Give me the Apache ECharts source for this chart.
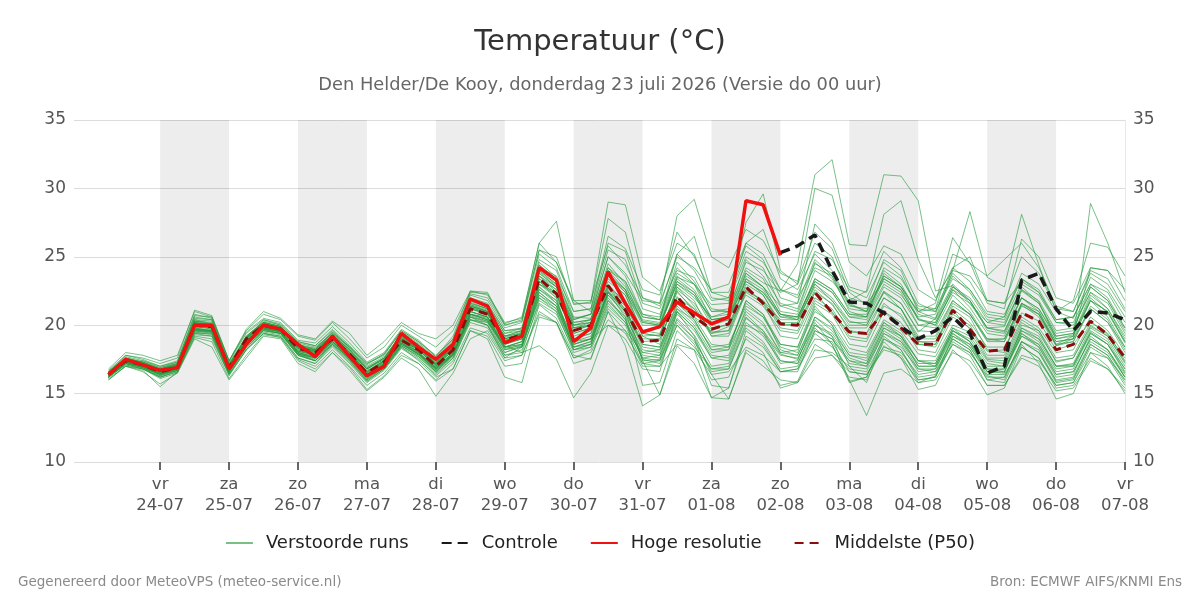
<!DOCTYPE html>
<html>
<head>
<meta charset="utf-8">
<script src="https://cdn.jsdelivr.net/npm/echarts@6/dist/echarts.min.js"></script>
<style>
html, body { margin: 0; padding: 0; background: #fff; }
#grafiek { width: 1200px; height: 600px; }
</style>
</head>
<body>
<div id="grafiek"></div>
<script>
'use strict';
// tijdstappen: elke 6 uur vanaf 23-07 06:00 (uren sinds 23-07 00:00)
var startUur = 6;
var stapUur = 6;

// daglabels (00:00 van elke dag)
var dagUren = [24, 48, 72, 96, 120, 144, 168, 192, 216, 240, 264, 288, 312, 336, 360];
var dagNamen = ['vr', 'za', 'zo', 'ma', 'di', 'wo', 'do', 'vr', 'za', 'zo', 'ma', 'di', 'wo', 'do', 'vr'];
var dagDatums = ['24-07', '25-07', '26-07', '27-07', '28-07', '29-07', '30-07', '31-07', '01-08', '02-08', '03-08', '04-08', '05-08', '06-08', '07-08'];
// grijze banden (om de dag)
var grijzeDagen = [24, 72, 120, 168, 216, 264, 312];

// hoge resolutie (tot 02-08 00:00)
var hoogRes = [16.4, 17.5, 17.1, 16.7, 16.9, 20.0, 20.0, 16.8, 18.6, 20.0, 19.7, 18.6, 17.7, 19.2, 17.7, 16.3, 17.0, 19.4, 18.4, 17.5,
    18.6, 21.9, 21.4, 18.7, 19.2, 24.2, 23.3, 18.8, 19.8, 23.9, 21.6, 19.5, 19.9, 21.7, 20.9, 20.1, 20.6, 29.1, 28.8, 25.1];

// controle run (zichtbaar vanaf stap 39)
var controleStart = 39;
var controle = [25.3, 25.8, 26.6, 24.0, 21.7, 21.6, 20.9, 19.9, 19.0, 19.6, 20.6, 19.4, 16.5, 17.0, 23.3, 23.8, 21.2, 19.6, 21.0, 20.9, 20.4];

// mediaan P50
var p50 = [16.4, 17.4, 17.1, 16.6, 16.9, 20.0, 19.9, 16.9, 19.0, 20.0, 19.7, 18.3, 18.0, 19.0, 17.9, 16.5, 17.3, 18.9, 18.2, 17.0,
    18.2, 21.2, 20.8, 18.9, 19.3, 23.4, 22.3, 19.6, 20.0, 22.9, 21.1, 18.8, 18.9, 22.1, 20.6, 19.7, 20.1, 22.8, 21.6, 20.1,
    20.0, 22.4, 20.9, 19.5, 19.4, 21.0, 19.8, 18.6, 18.6, 21.1, 19.7, 18.1, 18.2, 20.9, 20.3, 18.2, 18.6, 20.3, 19.3, 17.6];

// verstoorde runs
var runs = [
    [16.5,17.6,17.3,16.8,17.1,20.3,20.1,17.0,19.2,20.2,19.9,18.5,18.2,19.3,18.1,16.8,17.5,19.1,18.4,17.3,
     18.4,21.5,21.1,19.1,19.5,23.8,22.8,20.0,20.4,24.0,22.6,20.3,20.1,23.0,22.0,20.6,21.0,24.0,23.1,22.5,
     24.5,31.0,32.1,25.9,25.8,31.0,30.9,29.1,22.5,22.9,21.6,19.8,19.9,22.8,21.7,19.0,19.3,22.0,20.9,18.7],
    [16.2,17.2,17.4,17.0,17.3,20.8,20.5,17.2,19.0,20.4,20.1,18.8,18.5,19.6,18.4,17.2,17.8,19.6,18.8,17.8,
     19.0,22.3,22.0,20.0,20.3,25.5,25.0,21.5,21.7,29.0,28.8,23.5,22.5,26.0,25.2,22.0,21.8,25.0,24.2,21.4,
     21.0,24.5,23.8,21.5,21.0,23.6,22.8,20.5,20.0,22.6,21.3,19.4,19.2,22.0,21.0,18.8,19.0,21.8,20.6,18.4],
    [16.0,17.0,16.7,15.5,16.6,19.1,18.8,16.1,17.8,19.3,19.1,17.4,16.8,18.0,16.9,15.3,16.3,17.8,17.2,15.9,
     16.8,19.6,19.2,17.0,17.2,21.5,20.5,17.8,17.5,21.0,18.5,14.1,14.9,18.5,17.2,14.7,14.6,18.2,17.4,15.6,
     15.9,18.6,17.8,16.2,16.0,18.5,17.6,16.0,16.2,19.2,18.4,16.6,16.5,19.8,19.0,17.0,17.1,19.5,18.6,16.5],
    [16.4,17.3,16.9,16.2,16.7,19.5,19.3,16.6,18.3,19.6,19.4,17.9,17.4,18.7,17.5,16.0,16.9,18.6,17.9,16.6,
     17.8,20.6,20.2,18.0,18.5,22.0,21.2,18.6,19.0,22.5,21.0,17.4,17.5,20.5,19.3,17.0,17.2,20.5,19.6,17.9,
     17.5,20.2,18.6,16.0,13.4,16.5,16.8,15.8,16.3,18.6,18.0,16.3,16.0,18.8,18.2,15.9,16.1,18.6,17.8,16.0],
    [16.6,17.8,17.6,17.2,17.6,21.1,20.7,17.4,19.6,20.8,20.4,19.2,18.9,20.2,19.0,17.6,18.4,20.0,19.2,18.4,
     19.6,22.4,22.3,20.2,20.5,26.0,27.6,21.8,21.0,25.5,24.8,21.2,20.8,24.2,23.0,20.4,20.6,23.6,22.8,20.8,
     20.4,23.0,22.0,20.3,20.0,22.4,21.6,19.6,19.5,21.8,20.8,18.9,19.0,21.5,20.6,18.5,18.8,21.4,20.4,18.2],
    [16.3,17.4,17.2,16.7,17.0,20.0,19.7,16.7,18.8,20.1,19.8,18.2,17.8,19.1,17.7,16.3,17.2,19.0,18.0,16.8,
     18.0,20.4,20.2,18.5,18.0,18.5,17.5,14.7,16.5,20.0,19.0,16.8,16.6,21.0,19.8,17.6,17.8,21.2,20.2,18.0,
     18.2,21.0,20.2,18.3,18.0,20.4,19.6,17.9,17.7,20.0,19.5,17.5,17.4,20.0,19.6,17.3,17.6,19.9,19.2,17.3],
    [16.5,17.5,17.0,16.4,17.0,20.2,20.0,17.0,19.1,20.0,19.6,18.4,18.1,19.2,18.0,16.6,17.4,19.2,18.4,17.2,
     18.4,21.3,20.9,18.8,19.4,24.6,23.5,20.5,20.8,25.0,23.8,21.8,21.6,28.0,29.2,25.0,24.2,27.0,26.2,23.8,
     23.2,26.8,25.6,22.4,21.5,24.8,24.0,21.0,20.5,23.0,21.8,19.8,19.5,22.5,21.6,19.2,19.4,22.2,21.2,19.0],
    [16.4,17.5,17.3,16.9,17.2,20.4,20.1,17.1,19.0,20.2,19.9,18.6,18.2,19.5,18.3,16.9,17.6,19.4,18.6,17.5,
     18.8,22.0,21.6,19.6,19.8,24.8,24.0,20.6,20.5,24.5,23.0,20.2,20.0,23.5,23.0,21.5,21.6,27.5,29.6,24.0,
     23.0,26.0,25.0,22.0,21.6,23.2,22.4,20.0,19.8,22.2,21.0,19.0,18.8,21.6,20.8,18.6,18.8,21.2,20.2,18.0],
    [16.2,17.2,17.0,16.6,16.9,19.8,19.9,16.9,18.9,19.9,19.5,18.1,17.9,18.8,17.9,16.5,17.3,18.8,18.3,17.1,
     18.1,21.2,20.8,18.9,19.2,23.0,22.0,19.4,19.8,22.6,21.4,19.0,19.0,22.0,21.2,19.5,19.6,22.5,21.8,20.4,
     20.4,22.8,21.8,20.2,20.2,22.5,21.6,19.5,20.5,24.0,28.3,23.5,22.8,28.1,24.4,21.0,20.5,23.5,22.6,20.6],
    [16.6,17.6,17.1,16.5,16.8,19.8,19.6,16.5,18.6,19.8,19.5,18.0,17.7,18.8,17.6,16.2,17.0,18.7,17.8,16.6,
     17.9,20.8,20.5,18.6,19.0,23.4,22.6,19.6,20.0,23.2,22.2,19.2,19.3,22.5,21.0,19.4,19.9,23.0,22.2,20.0,
     20.0,22.6,21.5,19.8,19.8,22.0,21.2,18.8,18.6,21.4,20.6,18.2,18.0,21.6,21.0,18.5,19.0,28.9,26.0,22.4],
    [16.4,17.4,17.1,16.6,17.1,20.5,20.4,17.2,19.2,20.3,20.0,18.7,18.4,19.4,18.4,17.0,17.7,19.3,18.6,17.4,
     18.7,21.9,21.5,19.6,19.7,24.2,23.6,21.0,21.2,26.0,25.4,21.6,21.2,24.0,23.5,21.2,21.0,24.2,23.4,21.0,
     20.8,24.0,23.2,21.8,22.5,28.1,29.1,24.8,22.0,24.0,23.6,21.8,21.6,23.2,22.4,20.2,20.0,22.4,21.2,19.2],
    [16.3,17.3,16.9,16.3,16.8,19.6,19.5,16.6,18.5,19.7,19.6,18.1,17.8,19.0,17.8,16.4,17.1,18.9,18.0,16.9,
     18.2,21.0,20.6,18.7,19.0,23.0,22.2,19.2,19.6,22.4,21.6,19.6,19.8,23.2,22.2,20.0,20.4,23.2,22.4,20.8,
     20.6,23.4,22.6,20.8,20.8,23.6,22.8,21.0,21.6,26.4,24.5,23.6,24.8,26.0,24.2,21.4,21.0,23.8,23.0,21.0],
    [16.2,17.1,16.8,16.3,16.7,19.4,19.4,16.4,18.4,19.5,19.3,17.8,17.4,18.5,17.3,15.9,16.8,18.4,17.6,16.3,
     17.4,20.4,20.0,17.8,18.2,21.6,20.8,18.2,18.6,21.8,20.4,17.8,17.6,20.8,19.6,17.6,17.4,20.6,19.4,17.8,
     17.6,20.0,19.2,17.4,17.0,19.6,18.8,16.8,16.6,19.0,18.2,16.0,15.8,18.6,17.2,14.6,15.0,18.0,17.0,15.0],
    [16.4,17.4,17.1,16.6,16.9,20.0,19.9,16.9,19.0,20.0,19.7,18.3,18.0,19.0,17.9,16.5,17.3,18.9,18.2,17.0,
     18.3,21.2,20.8,18.9,19.3,23.4,22.3,19.6,20.0,22.9,21.1,18.8,18.9,22.1,20.6,19.7,20.1,22.8,21.6,20.1,
     20.0,22.4,20.9,19.5,19.4,21.0,19.8,18.6,18.6,21.1,19.7,18.1,18.2,20.9,20.3,18.2,18.6,20.3,19.3,17.6],
    [16.5,17.5,17.2,16.7,17.0,19.7,19.6,16.8,18.7,19.8,19.8,18.4,18.2,19.2,18.0,16.6,17.4,18.7,18.1,16.9,
     18.0,20.8,20.4,18.2,18.6,22.4,21.4,18.8,19.0,22.0,20.4,17.5,17.2,20.0,18.6,16.0,16.2,19.0,18.0,15.4,
     15.8,17.6,17.8,16.6,16.4,18.4,18.0,16.4,16.6,18.6,17.8,15.6,15.6,17.8,17.4,15.6,15.8,18.0,17.6,16.0],
    [16.7,17.8,17.5,17.0,17.4,20.7,20.6,17.4,19.5,20.5,20.2,18.9,18.7,19.9,18.7,17.3,18.0,19.7,18.9,17.7,
     19.2,22.5,22.2,20.1,20.6,26.0,24.6,21.6,21.6,27.8,26.8,22.0,21.4,25.2,24.0,21.8,22.0,25.4,24.6,22.6,
     22.0,24.2,23.6,21.4,21.2,24.0,23.0,20.8,20.4,22.8,22.0,20.2,20.0,22.6,21.6,19.4,19.6,22.8,21.8,19.6],
    [16.1,17.0,16.6,15.7,16.5,19.0,18.4,16.0,17.6,19.2,19.0,17.2,16.6,18.0,16.7,15.2,16.2,17.6,16.8,14.8,
     16.5,19.0,19.6,17.6,17.8,21.0,20.2,17.6,18.2,21.2,20.0,17.2,17.4,20.2,19.0,16.6,16.8,19.8,18.8,16.8,
     17.0,19.6,19.0,17.2,17.0,19.4,18.6,16.6,16.8,19.2,18.6,16.8,16.6,19.2,18.4,16.4,16.6,19.0,18.2,16.4],
    [16.3,17.4,17.2,16.8,17.2,20.4,20.3,17.1,19.1,20.1,19.8,18.5,18.0,19.3,18.2,16.8,17.5,19.2,18.4,17.3,
     18.6,21.8,21.4,19.4,19.8,24.4,23.2,20.4,20.8,24.2,23.2,20.8,20.6,23.8,23.0,21.0,21.2,24.6,24.0,22.4,
     23.0,30.0,29.5,24.6,23.6,25.8,25.2,22.6,21.8,24.2,23.2,21.0,20.8,23.4,22.6,20.4,20.6,23.0,22.4,20.2],
    [16.2,17.2,16.8,16.2,16.6,19.3,19.2,16.3,18.2,19.4,19.2,17.6,17.2,18.4,17.2,15.8,16.7,18.3,17.5,16.4,
     17.6,20.2,19.8,17.8,18.0,21.8,21.0,18.0,18.4,21.4,20.2,17.6,17.8,21.0,19.8,17.8,17.6,20.8,19.6,17.4,
     17.2,19.8,18.6,15.8,16.2,18.8,17.6,15.3,15.6,18.2,17.0,14.9,15.4,18.4,17.6,15.6,15.8,18.4,17.6,15.6],
    [16.6,17.7,17.4,16.9,17.3,20.3,20.0,17.0,19.0,20.1,19.8,18.6,18.3,19.5,18.4,17.1,17.9,19.5,18.7,17.6,
     18.9,22.0,21.4,19.4,19.6,24.0,23.0,20.2,20.4,24.2,22.8,20.6,20.4,23.6,22.6,20.6,20.8,23.8,22.8,20.8,
     20.6,23.2,22.4,20.6,20.4,22.8,22.0,20.0,20.2,22.4,21.6,20.2,20.6,23.8,23.0,21.0,21.8,26.0,25.7,23.6],
    [16.3,17.3,17.0,16.4,16.8,19.7,19.7,16.7,18.6,19.8,19.6,18.0,17.6,18.6,17.6,16.2,17.0,18.6,17.9,16.7,
     17.9,20.8,20.6,18.4,18.8,22.6,21.6,19.0,19.4,22.2,21.0,18.4,18.2,21.4,20.2,18.4,18.6,21.4,20.6,18.6,
     18.4,21.2,20.0,18.0,17.8,20.2,19.2,17.4,17.2,19.8,18.8,17.0,17.0,19.6,18.8,16.8,17.0,19.4,18.6,16.8],
    [16.5,17.5,17.2,16.8,17.1,20.2,20.0,17.0,19.2,20.2,19.8,18.4,18.2,19.3,18.1,16.8,17.6,19.1,18.4,17.2,
     18.6,21.6,21.2,19.2,19.6,24.4,23.4,20.4,20.8,25.0,23.6,20.8,20.4,24.6,23.2,21.0,21.0,24.8,23.6,21.6,
     21.2,24.6,23.4,21.2,21.0,24.2,23.4,21.4,21.2,23.8,22.6,20.6,20.4,23.0,22.2,20.2,20.2,22.8,21.8,19.8],
    [16.4,17.4,16.9,16.4,16.8,19.6,19.4,16.5,18.4,19.6,19.4,17.8,17.4,18.6,17.4,15.9,16.8,18.5,17.7,16.5,
     17.6,20.6,20.0,17.6,18.4,22.6,21.8,18.4,18.6,22.8,21.6,17.4,14.9,19.0,18.2,14.7,15.4,19.6,18.6,16.6,
     16.8,19.4,18.4,16.8,16.6,19.0,18.2,16.2,16.4,19.0,18.2,16.0,16.2,18.8,18.0,16.0,16.2,18.8,18.0,16.2],
    [16.4,17.6,17.3,16.8,17.2,20.6,20.4,17.3,19.4,20.4,20.0,18.8,18.5,19.7,18.5,17.2,17.9,19.6,18.8,17.7,
     19.0,22.2,21.8,19.8,20.2,25.2,24.2,21.0,21.2,26.5,25.6,22.6,22.2,26.8,25.0,22.4,22.4,25.8,24.8,22.0,
     21.6,24.8,23.6,21.0,20.6,23.4,22.6,20.4,20.0,22.6,21.8,19.6,19.4,22.0,21.2,19.0,19.2,21.8,21.0,18.8],
    [16.5,17.4,17.0,16.5,16.9,20.1,20.1,17.0,18.9,19.9,19.6,18.2,17.8,19.0,17.8,16.4,17.2,18.9,18.2,17.0,
     18.2,21.4,21.0,18.8,19.2,23.6,22.6,19.8,20.2,23.4,22.2,19.6,19.4,22.6,21.6,19.8,20.0,22.2,21.4,19.6,
     19.4,22.0,21.2,19.2,19.0,21.6,20.6,18.8,18.8,21.2,20.2,18.4,18.4,20.6,19.8,18.0,18.2,20.6,19.6,17.8],
    [16.2,17.3,17.1,16.7,17.0,20.2,19.8,16.8,18.8,19.9,19.7,18.3,18.0,19.1,17.9,16.6,17.4,19.0,18.2,17.0,
     18.4,21.4,21.0,19.0,19.4,23.8,22.8,19.8,20.0,23.6,22.4,20.0,20.0,23.2,22.4,20.2,20.4,23.4,22.6,20.6,
     20.4,23.4,22.6,20.8,20.6,23.8,22.8,21.0,21.2,25.2,24.6,21.6,21.2,26.3,25.0,22.0,21.6,24.2,24.0,22.6],
    [16.3,17.2,16.9,16.4,16.7,19.6,19.6,16.6,18.7,19.8,19.5,17.9,17.6,18.8,17.6,16.1,16.9,18.5,17.8,16.8,
     17.9,21.0,20.6,18.4,18.6,22.8,21.8,18.8,19.2,22.4,21.2,18.6,18.4,21.6,20.6,18.6,18.4,21.6,20.6,18.4,
     18.0,21.4,20.0,17.0,15.8,19.0,18.4,16.8,16.8,19.4,18.6,16.6,16.6,19.4,18.4,16.2,16.4,19.2,18.2,16.2],
    [16.4,17.4,17.0,16.5,16.8,19.8,19.5,16.6,18.5,19.7,19.4,17.9,17.5,18.8,17.6,16.2,17.0,18.6,17.9,16.7,
     17.8,20.6,20.3,18.2,18.4,22.0,21.0,18.4,18.8,22.2,20.8,18.0,17.8,21.0,19.2,16.4,14.6,18.0,17.0,16.0,
     15.8,18.2,18.0,17.0,16.8,19.4,18.8,17.2,17.2,19.6,19.0,17.2,17.0,19.6,19.0,17.0,17.2,19.8,19.0,17.0],
    [16.8,18.0,17.8,17.4,17.8,21.0,20.6,17.4,19.7,21.0,20.5,19.3,19.0,20.3,19.4,17.8,18.8,20.2,19.4,19.0,
     20.0,22.5,22.4,20.0,20.4,25.5,24.6,21.8,21.8,25.8,24.4,22.0,21.6,25.0,24.2,22.6,23.0,26.0,25.2,22.6,
     22.2,25.4,24.8,22.6,22.0,24.6,23.6,21.2,21.0,23.4,22.6,20.8,20.6,23.4,22.4,20.4,20.6,23.0,22.0,19.8],
    [16.2,17.1,16.8,16.1,16.5,19.2,19.0,16.4,18.2,19.4,19.1,17.5,17.0,18.2,17.0,15.6,16.5,18.0,17.2,16.0,
     17.2,19.8,19.4,17.4,17.8,20.8,20.2,17.6,18.0,20.4,19.4,17.2,17.0,18.6,18.2,16.4,16.6,18.4,17.8,16.6,
     16.8,19.0,18.8,16.6,16.4,18.2,17.8,15.8,16.0,18.0,17.4,15.6,15.6,17.6,17.0,15.2,15.4,17.4,16.8,15.4],
    [16.4,17.5,17.2,16.6,17.0,19.9,19.8,16.9,18.8,20.0,19.8,18.4,17.9,19.2,18.0,16.4,17.2,19.1,18.3,17.2,
     18.4,21.2,20.9,18.6,19.0,23.0,22.4,19.0,19.4,23.6,22.6,19.2,18.6,22.8,21.8,19.2,19.2,22.4,21.6,19.2,
     19.0,21.8,21.0,19.0,18.8,21.4,20.8,18.6,18.4,20.8,20.0,17.8,17.8,20.4,19.6,17.6,17.8,20.2,19.4,17.4],
    [16.3,17.2,16.9,16.5,16.8,19.6,19.6,16.7,18.6,19.6,19.4,17.9,17.6,18.9,17.8,16.4,17.2,18.7,17.9,16.9,
     17.9,20.7,20.3,18.3,18.5,22.2,21.4,18.2,18.4,21.6,20.2,17.6,17.4,20.4,19.0,15.6,15.4,19.2,18.4,16.6,
     16.6,19.6,19.0,17.4,17.2,19.8,19.2,17.4,17.4,19.8,19.2,17.4,17.2,19.8,19.2,17.0,17.0,19.6,18.8,16.8],
    [16.5,17.6,17.3,16.7,17.1,20.2,20.0,17.0,19.0,20.2,19.9,18.5,18.1,19.3,18.2,16.8,17.6,19.3,18.5,17.4,
     18.6,21.6,21.2,19.2,19.4,23.9,22.9,20.0,20.2,23.8,22.6,20.4,20.2,23.4,22.4,20.4,20.6,23.8,22.8,21.4,
     21.6,27.4,26.0,22.8,22.4,25.4,24.2,21.6,21.0,23.6,22.4,20.4,20.2,22.6,21.8,19.6,19.8,22.4,21.6,19.4],
    [16.3,17.3,17.0,16.5,16.9,19.8,19.8,16.8,18.8,19.8,19.5,18.1,17.8,18.9,17.8,16.4,17.1,18.8,18.0,16.8,
     17.8,21.0,20.6,18.4,18.8,23.2,22.0,18.2,18.6,22.4,20.6,15.6,15.8,19.6,18.4,16.8,16.8,20.0,19.4,17.2,
     17.4,20.6,19.6,17.8,17.4,20.0,19.2,17.0,17.0,19.6,18.8,16.6,16.8,19.2,18.6,16.6,16.8,19.4,18.6,16.6],
    [16.6,17.6,17.2,16.6,16.9,20.1,20.0,17.1,19.1,20.1,19.7,18.3,18.1,19.1,18.0,16.7,17.4,19.0,18.3,17.1,
     18.4,21.4,21.0,19.0,19.4,23.6,22.4,19.8,20.0,23.0,21.6,19.4,19.2,22.8,21.4,19.4,19.6,23.4,22.2,20.2,
     20.2,23.0,21.8,20.0,20.0,22.4,21.2,19.2,19.2,21.8,20.8,19.0,19.0,21.6,20.8,18.8,19.0,21.2,20.2,18.4],
    [16.0,17.0,16.8,16.2,16.6,19.4,19.2,16.4,18.2,19.4,19.2,17.6,17.2,18.6,17.4,16.0,16.8,18.4,17.4,16.2,
     16.8,19.6,19.0,16.2,15.8,20.6,20.2,17.2,17.6,21.0,19.6,17.0,17.0,20.0,18.8,16.8,17.0,20.2,19.2,17.4,
     17.2,20.0,19.4,17.6,17.2,19.8,19.0,17.0,17.0,19.6,18.8,16.8,16.8,19.4,18.6,16.4,16.6,19.0,18.2,16.2],
    [16.5,17.5,17.1,16.6,17.0,20.1,19.9,16.9,19.0,20.1,19.8,18.4,18.1,19.2,18.0,16.6,17.4,19.0,18.3,17.2,
     18.5,21.5,21.0,19.0,19.4,23.6,22.8,20.0,20.2,24.0,23.2,20.6,20.4,25.2,26.5,22.4,22.0,26.0,27.0,23.4,
     22.6,25.2,24.0,21.6,21.0,23.4,22.6,20.4,20.2,22.8,21.8,19.8,19.6,22.0,21.2,19.2,19.4,21.8,21.0,18.8],
    [16.4,17.3,17.0,16.4,16.8,19.7,19.5,16.6,18.6,19.7,19.5,18.0,17.6,18.8,17.6,16.2,17.0,18.7,17.9,16.8,
     17.9,20.8,20.4,18.4,18.6,22.4,21.4,18.6,19.0,22.4,21.0,18.6,18.4,21.6,20.4,18.2,18.2,21.8,20.8,18.2,
     17.8,20.4,19.2,15.9,16.2,19.2,18.2,16.0,16.2,18.8,18.0,16.2,16.2,18.8,18.0,15.8,16.0,18.6,17.8,15.8],
    [16.5,17.5,17.2,16.8,17.1,20.3,20.2,17.1,19.1,20.2,19.9,18.5,18.3,19.4,18.2,16.9,17.6,19.2,18.5,17.4,
     18.6,21.7,21.2,19.2,19.6,24.0,23.0,20.2,20.4,23.8,22.4,20.2,20.0,23.0,22.2,20.4,20.6,23.2,22.4,20.6,
     20.6,23.2,22.4,20.6,20.6,23.0,22.2,20.6,20.8,24.2,25.0,21.8,21.6,25.0,23.8,21.2,21.0,24.0,23.4,21.2],
    [16.2,17.2,16.9,16.4,16.7,19.5,19.5,16.6,18.6,19.7,19.4,17.8,17.4,18.7,17.5,16.1,16.9,18.5,17.7,16.6,
     17.7,20.4,20.0,18.0,18.4,22.2,21.2,18.4,18.8,21.8,20.6,18.2,18.0,21.2,20.0,18.0,18.2,21.0,20.0,18.0,
     17.8,20.6,19.8,17.8,17.6,20.2,19.4,17.4,17.0,19.4,18.4,16.4,16.4,18.4,17.6,15.4,15.6,17.6,16.8,15.2],
    [16.4,17.4,17.1,16.7,17.0,20.0,19.9,16.9,18.9,20.0,19.7,18.3,17.9,19.1,17.9,16.5,17.3,18.9,18.2,17.1,
     18.3,21.3,20.9,18.8,19.2,23.2,22.2,19.4,19.8,22.8,21.8,19.4,19.2,22.4,21.2,19.2,19.4,22.6,21.8,19.8,
     19.6,22.4,21.6,19.6,19.4,22.0,21.2,19.0,19.0,21.6,20.8,18.8,18.8,21.4,20.8,18.6,19.2,24.2,24.0,21.8],
    [16.3,17.3,17.0,16.5,16.8,19.7,19.6,16.7,18.7,19.8,19.6,18.0,17.7,18.8,17.7,16.3,17.1,18.7,18.0,16.9,
     18.0,20.8,20.4,18.4,18.8,22.8,21.6,18.6,19.0,20.0,19.6,18.0,18.2,21.2,20.4,18.2,18.4,21.8,20.8,18.6,
     18.4,21.6,20.8,18.6,18.4,21.0,20.2,18.2,18.0,20.6,19.8,17.6,17.6,20.2,19.4,17.4,17.6,20.0,19.2,17.2]
];

function naarPunten(waarden, beginIndex) {
    return waarden.map(function (v, i) {
        return [startUur + stapUur * (beginIndex + i), v];
    });
}

var grafiek = echarts.init(document.getElementById('grafiek'), null, { renderer: 'canvas' });

var series = [];

// grijze achtergrondbanden
series.push({
    name: 'banden',
    type: 'line',
    data: [],
    silent: true,
    markArea: {
        silent: true,
        itemStyle: { color: 'rgba(0,0,0,0.072)' },
        data: grijzeDagen.map(function (u) { return [{ xAxis: u }, { xAxis: u + 24 }]; })
    }
});

runs.forEach(function (run) {
    series.push({
        name: 'Verstoorde runs',
        type: 'line',
        data: naarPunten(run, 0),
        symbol: 'none',
        silent: true,
        z: 2,
        lineStyle: { width: 1, color: '#279a3e', opacity: 0.62 },
        itemStyle: { color: '#279a3e' }
    });
});

series.push({
    name: 'Middelste (P50)',
    type: 'line',
    data: naarPunten(p50, 0),
    symbol: 'none',
    z: 4,
    lineStyle: { width: 3, color: '#8b0d0d', type: [9, 6] },
    itemStyle: { color: '#8b0d0d' }
});

series.push({
    name: 'Controle',
    type: 'line',
    data: naarPunten(controle, controleStart),
    symbol: 'none',
    z: 5,
    lineStyle: { width: 3.5, color: '#1a1a1a', type: [10, 6] },
    itemStyle: { color: '#1a1a1a' }
});

series.push({
    name: 'Hoge resolutie',
    type: 'line',
    data: naarPunten(hoogRes, 0),
    symbol: 'none',
    z: 6,
    lineStyle: { width: 3.5, color: '#f01010' },
    itemStyle: { color: '#f01010' }
});

var option = {
    animation: false,
    backgroundColor: '#ffffff',
    textStyle: { fontFamily: 'DejaVu Sans' },
    title: [
        {
            text: 'Temperatuur (°C)',
            left: 'center',
            top: 23,
            textStyle: { fontSize: 29, fontWeight: 'normal', color: '#333333', fontFamily: 'DejaVu Sans' }
        },
        {
            text: 'Den Helder/De Kooy, donderdag 23 juli 2026 (Versie do 00 uur)',
            left: 'center',
            top: 71,
            textStyle: { fontSize: 17.8, fontWeight: 'normal', color: '#666666', fontFamily: 'DejaVu Sans' }
        },
        {
            text: 'Gegenereerd door MeteoVPS (meteo-service.nl)',
            left: 13,
            top: 570,
            textStyle: { fontSize: 13.5, fontWeight: 'normal', color: '#8a8a8a', fontFamily: 'DejaVu Sans' }
        },
        {
            text: 'Bron: ECMWF AIFS/KNMI Ens',
            right: 13,
            top: 570,
            textStyle: { fontSize: 13.5, fontWeight: 'normal', color: '#8a8a8a', fontFamily: 'DejaVu Sans' }
        }
    ],
    legend: {
        data: ['Verstoorde runs', 'Controle', 'Hoge resolutie', 'Middelste (P50)'],
        left: 'center',
        top: 529,
        itemWidth: 27,
        itemHeight: 14,
        itemGap: 32,
        itemStyle: { opacity: 0 },
        textStyle: { fontSize: 18, color: '#222222', padding: [0, 0, 0, 8], fontFamily: 'DejaVu Sans' }
    },
    grid: { left: 74, right: 75, top: 120, bottom: 138, containLabel: false },
    xAxis: {
        type: 'value',
        min: -6,
        max: 360,
        splitLine: { show: false },
        axisLine: { show: false },
        axisTick: {
            show: true,
            customValues: dagUren,
            length: 8,
            lineStyle: { color: '#666666', width: 2 }
        },
        axisLabel: {
            customValues: dagUren,
            margin: 12,
            fontSize: 16.5,
            lineHeight: 21,
            color: '#555555',
            formatter: function (v) {
                var i = dagUren.indexOf(v);
                return i < 0 ? '' : dagNamen[i] + '\n' + dagDatums[i];
            }
        }
    },
    yAxis: [
        {
            type: 'value',
            min: 10,
            max: 35,
            interval: 5,
            position: 'left',
            axisLine: { show: false },
            axisTick: { show: false },
            axisLabel: { fontSize: 17, color: '#555555', margin: 8 },
            splitLine: { lineStyle: { color: '#dcdcdc', width: 1 } }
        },
        {
            type: 'value',
            min: 10,
            max: 35,
            interval: 5,
            position: 'right',
            axisLine: { show: true, lineStyle: { color: '#e8e8e8', width: 1 } },
            axisTick: { show: false },
            axisLabel: { fontSize: 17, color: '#555555', margin: 8 },
            splitLine: { show: false }
        }
    ],
    series: series
};

grafiek.setOption(option);
</script>
</body>
</html>
